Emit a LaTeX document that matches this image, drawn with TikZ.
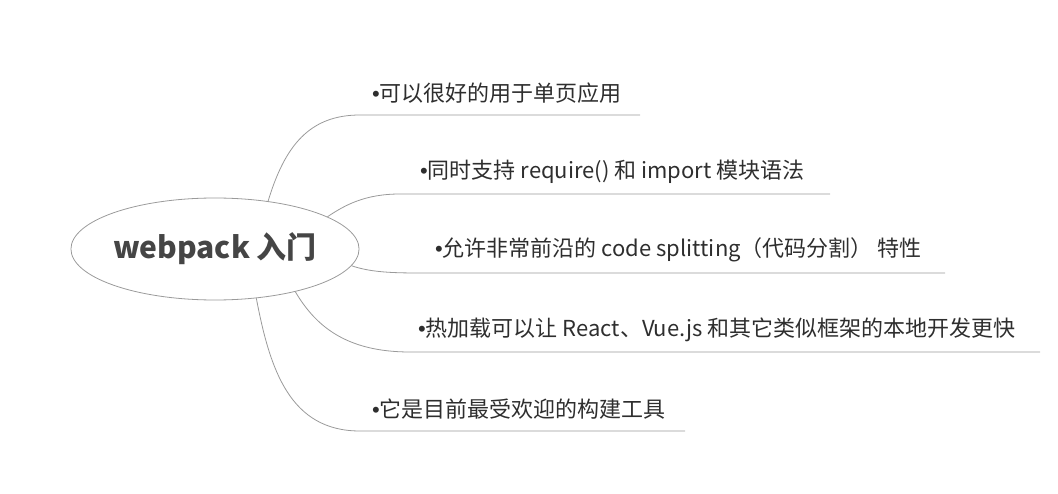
\documentclass[tikz,border=0pt]{standalone}
\usepackage{fontspec}
\usepackage{xcolor}
\usepackage{tikz}
\usetikzlibrary{shapes.geometric, positioning}
\setmainfont{Noto Sans CJK SC}
\newfontfamily\dotfont{Liberation Sans}
\newcommand{\pt}{{\dotfont •}}
\definecolor{inkgray}{HTML}{2E2E2E}
\definecolor{titlegray}{HTML}{454545}
\definecolor{linegray}{HTML}{9A9A9A}
\tikzset{
  topic/.style={ellipse, draw=linegray, line width=0.8pt, inner sep=0pt, minimum width=288, minimum height=102, text=titlegray, font=\fontsize{30}{36}\selectfont\bfseries},
  item/.style={anchor=west, inner sep=0pt, text=inkgray, font=\fontsize{22}{26}\selectfont},
  branch/.style={draw=linegray, line width=0.8pt}
}

\begin{document}
\begin{tikzpicture}[x=1pt, y=-1pt]
    \useasboundingbox (0,0) rectangle (1058,494);
    \node[topic] (root) at (215,249) {webpack 入门};

    % branches
    \node[item] (b1) at (372,93) {\pt 可以很好的用于单页应用};
    \node[item] (b2) at (420,172) {\pt 同时支持 require() 和 import 模块语法};
    \node[item] (b3) at (435,250) {\pt 允许非常前沿的 code splitting（代码分割） 特性};
    \node[item] (b4) at (418,330) {\pt 热加载可以让 React、Vue.js 和其它类似框架的本地开发更快};
    \node[item] (b5) at (372,409) {\pt 它是目前最受欢迎的构建工具};

    \coordinate (u1) at (360,115);  \coordinate (e1) at (640,115);
    \coordinate (u2) at (400,194);  \coordinate (e2) at (830,194);
    \coordinate (u3) at (420,273);  \coordinate (e3) at (945,273);
    \coordinate (u4) at (410,352);  \coordinate (e4) at (1040,352);
    \coordinate (u5) at (360,431);  \coordinate (e5) at (685,431);

    \draw[branch] (root.42) .. controls (285,145) and (310,115) .. (u1) -- (e1);
    \draw[branch] (root.16) .. controls (345,205) and (365,194) .. (u2) -- (e2);
    \draw[branch] (root.-7) .. controls (370,272) and (390,273) .. (u3) -- (e3);
    \draw[branch] (root.-28) .. controls (315,325) and (345,352) .. (u4) -- (e4);
    \draw[branch] (root.-50) .. controls (270,370) and (290,431) .. (u5) -- (e5);
  \end{tikzpicture}
\end{document}
